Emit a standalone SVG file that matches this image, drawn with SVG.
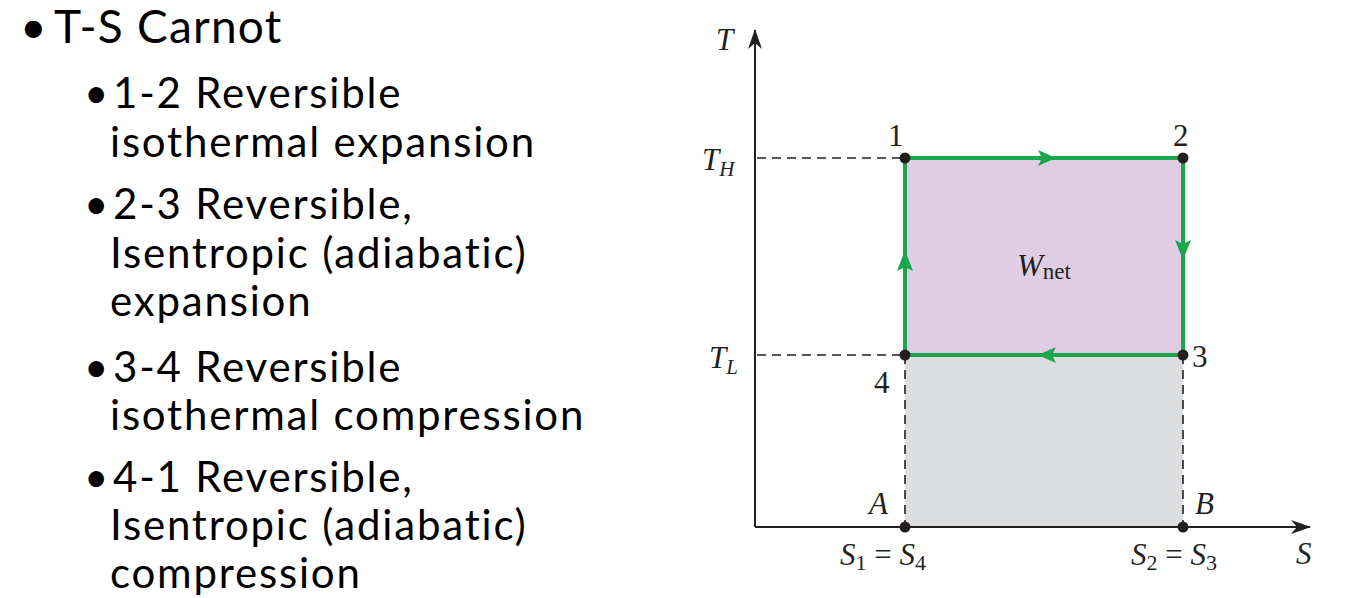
<svg xmlns="http://www.w3.org/2000/svg" width="1347" height="598" viewBox="0 0 1347 598">
<style>
.b{font-family:Lato,"Open Sans",sans-serif;fill:#000;letter-spacing:1.8px}
.u{font-family:Lato,"Open Sans",sans-serif;fill:#000}
.m{font-family:"Liberation Serif",serif;fill:#231f20}
.d{stroke:#231f20;stroke-width:1.6;stroke-dasharray:9 6;fill:none}
.g{stroke:#1aa64a;stroke-width:4;fill:none}
.ar{fill:#1aa64a}
</style>
<defs><marker id="ax" markerWidth="20" markerHeight="14" refX="19" refY="7" orient="auto" markerUnits="userSpaceOnUse"><path d="M0,0 L20,7 L0,14 L6,7z" fill="#231f20"/></marker></defs>
<rect width="1347" height="598" fill="#fff"/>
<g id="text">
<text class="u" font-size="46" x="20" y="43">•</text>
<text class="b" font-size="46" x="54" y="43" style="letter-spacing:1.2px">T-S Carnot</text>
<g font-size="42">
<text class="u" x="84" y="108">•</text><text class="b" x="113" y="108">1-2 Reversible</text>
<text class="b" x="110" y="157">isothermal expansion</text>
<text class="u" x="84" y="219">•</text><text class="b" x="113" y="219">2-3 Reversible,</text>
<text class="b" x="110" y="268">Isentropic (adiabatic)</text>
<text class="b" x="110" y="316">expansion</text>
<text class="u" x="84" y="382">•</text><text class="b" x="113" y="382">3-4 Reversible</text>
<text class="b" x="110" y="430">isothermal compression</text>
<text class="u" x="84" y="492">•</text><text class="b" x="113" y="492">4-1 Reversible,</text>
<text class="b" x="110" y="540">Isentropic (adiabatic)</text>
<text class="b" x="110" y="588">compression</text>
</g>
</g>
<g id="areas">
<rect x="905" y="158" width="278" height="197" fill="#e0cde3"/>
<rect x="905" y="355" width="278" height="172" fill="#dcdddf"/>
</g>
<g id="connectors">
<line x1="755" y1="527" x2="755" y2="30" stroke="#231f20" stroke-width="2" marker-end="url(#ax)"/>
<line x1="755" y1="527" x2="1310" y2="527" stroke="#231f20" stroke-width="2" marker-end="url(#ax)"/>
<path class="d" d="M757,158 H905 M757,355 H905 M905,355 V527 M1183,355 V527"/>
<path class="g" d="M905,158 H1183 V355 H905 Z"/>
<path class="ar" d="M1038,150 L1042,158 L1038,166 L1056,158z"/>
<path class="ar" d="M1056,347 L1052,355 L1056,363 L1038,355z"/>
<path class="ar" d="M1175,240 L1183,244 L1191,240 L1183,260z"/>
<path class="ar" d="M897,271 L905,267 L913,271 L905,250z"/>
</g>
<g id="points" fill="#231f20">
<circle cx="905" cy="158" r="5.5"/><circle cx="1183" cy="158" r="5.5"/>
<circle cx="1183" cy="355" r="5.5"/><circle cx="905" cy="355" r="5.5"/>
<circle cx="905" cy="527" r="5.5"/><circle cx="1183" cy="527" r="5.5"/>
</g>
<g id="labels" font-size="31">
<text class="m" x="716" y="50" font-style="italic">T</text>
<text class="m" x="702" y="170" font-style="italic">T<tspan font-size="21" dy="6">H</tspan></text>
<text class="m" x="709" y="368" font-style="italic">T<tspan font-size="21" dy="6">L</tspan></text>
<text class="m" x="888" y="146">1</text>
<text class="m" x="1173" y="146">2</text>
<text class="m" x="1192" y="367">3</text>
<text class="m" x="874" y="393">4</text>
<text class="m" x="869" y="514" font-style="italic">A</text>
<text class="m" x="1195" y="514" font-style="italic">B</text>
<text class="m" x="1296" y="564" font-style="italic">S</text>
<text class="m" x="1017" y="276" font-style="italic">W<tspan font-size="23" font-style="normal" dy="3">net</tspan></text>
<text class="m" x="840" y="565"><tspan font-style="italic">S</tspan><tspan font-size="22" dy="5">1</tspan><tspan dy="-5"> = </tspan><tspan font-style="italic">S</tspan><tspan font-size="22" dy="5">4</tspan></text>
<text class="m" x="1131" y="565"><tspan font-style="italic">S</tspan><tspan font-size="22" dy="5">2</tspan><tspan dy="-5"> = </tspan><tspan font-style="italic">S</tspan><tspan font-size="22" dy="5">3</tspan></text>
</g>
</svg>
